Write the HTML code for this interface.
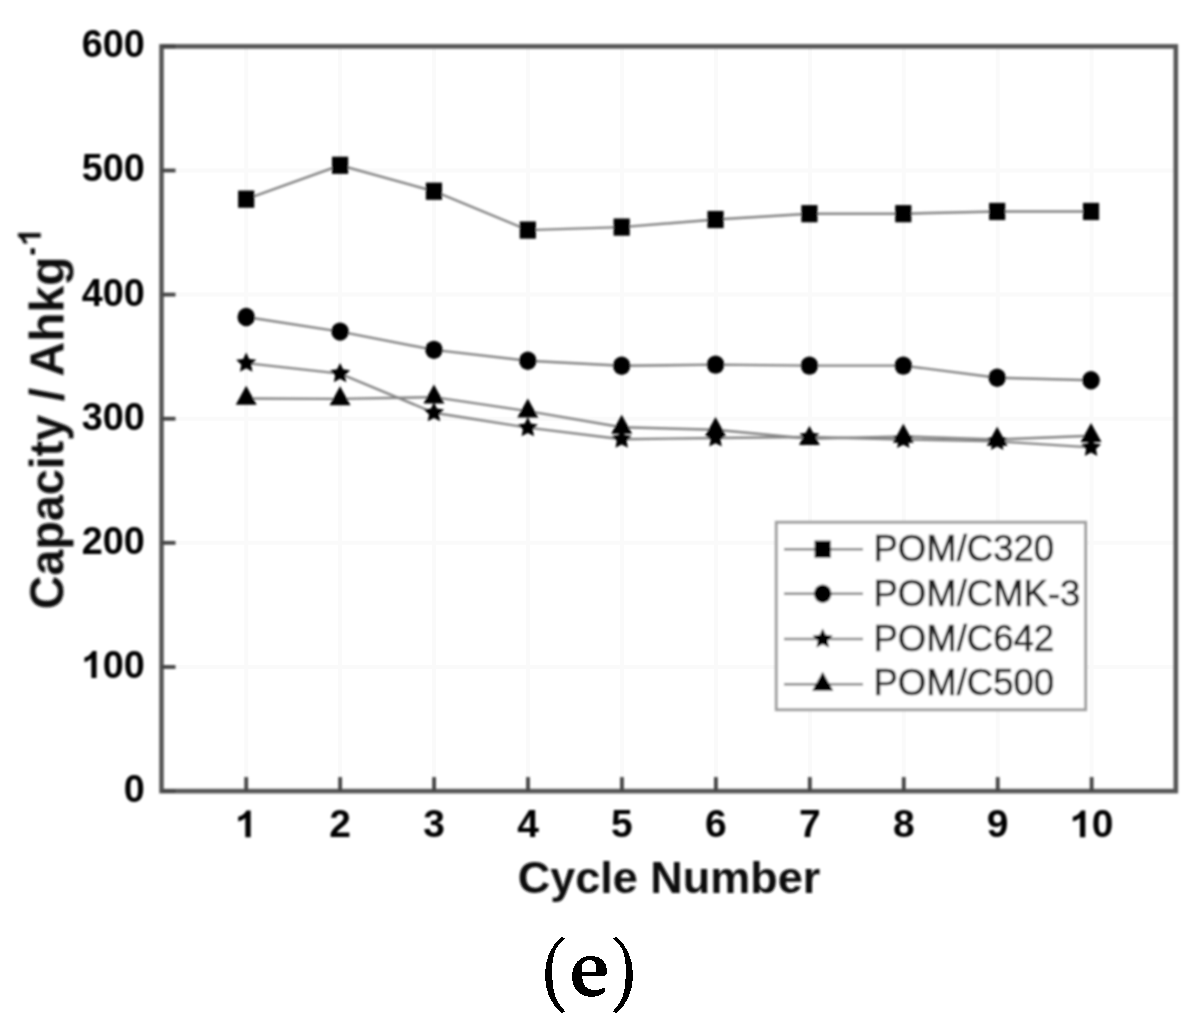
<!DOCTYPE html>
<html><head><meta charset="utf-8"><title>Chart</title>
<style>html,body{margin:0;padding:0;background:#fff;}body{width:1203px;height:1025px;overflow:hidden;font-family:"Liberation Sans",sans-serif;}svg{display:block;}</style>
</head><body><svg width="1203" height="1025" viewBox="0 0 1203 1025"><defs><filter id="bl" x="-5%" y="-5%" width="110%" height="110%"><feGaussianBlur stdDeviation="0.8"/></filter></defs><g stroke="#fafafa" stroke-width="4"><line x1="246.20" y1="46.40" x2="246.20" y2="791.10"/><line x1="340.14" y1="46.40" x2="340.14" y2="791.10"/><line x1="434.08" y1="46.40" x2="434.08" y2="791.10"/><line x1="528.02" y1="46.40" x2="528.02" y2="791.10"/><line x1="621.96" y1="46.40" x2="621.96" y2="791.10"/><line x1="715.90" y1="46.40" x2="715.90" y2="791.10"/><line x1="809.84" y1="46.40" x2="809.84" y2="791.10"/><line x1="903.78" y1="46.40" x2="903.78" y2="791.10"/><line x1="997.72" y1="46.40" x2="997.72" y2="791.10"/><line x1="1091.66" y1="46.40" x2="1091.66" y2="791.10"/><line x1="161.50" y1="666.98" x2="1175.80" y2="666.98"/><line x1="161.50" y1="542.86" x2="1175.80" y2="542.86"/><line x1="161.50" y1="418.74" x2="1175.80" y2="418.74"/><line x1="161.50" y1="294.62" x2="1175.80" y2="294.62"/><line x1="161.50" y1="170.50" x2="1175.80" y2="170.50"/></g><g filter="url(#bl)"><polyline points="246.20,398.51 340.07,398.88 433.94,397.14 527.81,411.17 621.68,427.30 715.55,429.79 809.42,438.72 903.29,436.37 997.16,439.47 1091.03,435.74" fill="none" stroke="#858585" stroke-width="2.4"/><polyline points="246.20,363.13 340.07,373.56 433.94,412.78 527.81,427.68 621.68,439.22 715.55,437.98 809.42,436.99 903.29,439.47 997.16,441.33 1091.03,447.41" fill="none" stroke="#858585" stroke-width="2.4"/><polyline points="246.20,316.96 340.07,331.61 433.94,349.85 527.81,360.78 621.68,365.74 715.55,364.62 809.42,365.62 903.29,365.62 997.16,377.78 1091.03,380.26" fill="none" stroke="#858585" stroke-width="2.4"/><polyline points="246.20,199.17 340.07,165.29 433.94,191.23 527.81,230.08 621.68,227.10 715.55,219.53 809.42,213.69 903.29,213.69 997.16,211.46 1091.03,211.46" fill="none" stroke="#858585" stroke-width="2.4"/><g fill="#000"><rect x="238.10" y="190.57" width="16.20" height="17.20"/><rect x="331.97" y="156.69" width="16.20" height="17.20"/><rect x="425.84" y="182.63" width="16.20" height="17.20"/><rect x="519.71" y="221.48" width="16.20" height="17.20"/><rect x="613.58" y="218.50" width="16.20" height="17.20"/><rect x="707.45" y="210.93" width="16.20" height="17.20"/><rect x="801.32" y="205.09" width="16.20" height="17.20"/><rect x="895.19" y="205.09" width="16.20" height="17.20"/><rect x="989.06" y="202.86" width="16.20" height="17.20"/><rect x="1082.93" y="202.86" width="16.20" height="17.20"/><ellipse cx="246.20" cy="316.96" rx="8.75" ry="9.20"/><ellipse cx="340.07" cy="331.61" rx="8.75" ry="9.20"/><ellipse cx="433.94" cy="349.85" rx="8.75" ry="9.20"/><ellipse cx="527.81" cy="360.78" rx="8.75" ry="9.20"/><ellipse cx="621.68" cy="365.74" rx="8.75" ry="9.20"/><ellipse cx="715.55" cy="364.62" rx="8.75" ry="9.20"/><ellipse cx="809.42" cy="365.62" rx="8.75" ry="9.20"/><ellipse cx="903.29" cy="365.62" rx="8.75" ry="9.20"/><ellipse cx="997.16" cy="377.78" rx="8.75" ry="9.20"/><ellipse cx="1091.03" cy="380.26" rx="8.75" ry="9.20"/><polygon points="246.20,352.53 249.26,358.93 256.28,359.86 251.15,364.74 252.43,371.71 246.20,368.33 239.97,371.71 241.25,364.74 236.12,359.86 243.14,358.93"/><polygon points="340.07,362.96 343.13,369.35 350.15,370.28 345.02,375.17 346.30,382.14 340.07,378.76 333.84,382.14 335.12,375.17 329.99,370.28 337.01,369.35"/><polygon points="433.94,402.18 437.00,408.58 444.02,409.51 438.89,414.39 440.17,421.36 433.94,417.98 427.71,421.36 428.99,414.39 423.86,409.51 430.88,408.58"/><polygon points="527.81,417.08 530.87,423.47 537.89,424.40 532.76,429.28 534.04,436.25 527.81,432.88 521.58,436.25 522.86,429.28 517.73,424.40 524.75,423.47"/><polygon points="621.68,428.62 624.74,435.01 631.76,435.94 626.63,440.83 627.91,447.80 621.68,444.42 615.45,447.80 616.73,440.83 611.60,435.94 618.62,435.01"/><polygon points="715.55,427.38 718.61,433.77 725.63,434.70 720.50,439.59 721.78,446.55 715.55,443.18 709.32,446.55 710.60,439.59 705.47,434.70 712.49,433.77"/><polygon points="809.42,426.39 812.48,432.78 819.50,433.71 814.37,438.59 815.65,445.56 809.42,442.19 803.19,445.56 804.47,438.59 799.34,433.71 806.36,432.78"/><polygon points="903.29,428.87 906.35,435.26 913.37,436.19 908.24,441.07 909.52,448.04 903.29,444.67 897.06,448.04 898.34,441.07 893.21,436.19 900.23,435.26"/><polygon points="997.16,430.73 1000.22,437.12 1007.24,438.05 1002.11,442.94 1003.39,449.91 997.16,446.53 990.93,449.91 992.21,442.94 987.08,438.05 994.10,437.12"/><polygon points="1091.03,436.81 1094.09,443.20 1101.11,444.14 1095.98,449.02 1097.26,455.99 1091.03,452.61 1084.80,455.99 1086.08,449.02 1080.95,444.14 1087.97,443.20"/><polygon points="246.20,385.84 256.70,404.84 235.70,404.84"/><polygon points="340.07,386.21 350.57,405.21 329.57,405.21"/><polygon points="433.94,384.48 444.44,403.48 423.44,403.48"/><polygon points="527.81,398.50 538.31,417.50 517.31,417.50"/><polygon points="621.68,414.64 632.18,433.64 611.18,433.64"/><polygon points="715.55,417.12 726.05,436.12 705.05,436.12"/><polygon points="809.42,426.06 819.92,445.06 798.92,445.06"/><polygon points="903.29,423.70 913.79,442.70 892.79,442.70"/><polygon points="997.16,426.80 1007.66,445.80 986.66,445.80"/><polygon points="1091.03,423.08 1101.53,442.08 1080.53,442.08"/></g><rect x="161.50" y="46.40" width="1014.30" height="744.70" fill="none" stroke="#575757" stroke-width="4.6"/><g stroke="#454545" stroke-width="3.8"><line x1="246.20" y1="791.10" x2="246.20" y2="777.10"/><line x1="340.14" y1="791.10" x2="340.14" y2="777.10"/><line x1="434.08" y1="791.10" x2="434.08" y2="777.10"/><line x1="528.02" y1="791.10" x2="528.02" y2="777.10"/><line x1="621.96" y1="791.10" x2="621.96" y2="777.10"/><line x1="715.90" y1="791.10" x2="715.90" y2="777.10"/><line x1="809.84" y1="791.10" x2="809.84" y2="777.10"/><line x1="903.78" y1="791.10" x2="903.78" y2="777.10"/><line x1="997.72" y1="791.10" x2="997.72" y2="777.10"/><line x1="1091.66" y1="791.10" x2="1091.66" y2="777.10"/><line x1="161.50" y1="791.10" x2="175.50" y2="791.10"/><line x1="161.50" y1="666.98" x2="175.50" y2="666.98"/><line x1="161.50" y1="542.86" x2="175.50" y2="542.86"/><line x1="161.50" y1="418.74" x2="175.50" y2="418.74"/><line x1="161.50" y1="294.62" x2="175.50" y2="294.62"/><line x1="161.50" y1="170.50" x2="175.50" y2="170.50"/><line x1="161.50" y1="46.38" x2="175.50" y2="46.38"/></g><g font-family="Liberation Sans, sans-serif" font-weight="bold" font-size="39" fill="#000"><text transform="translate(144.8,0) scale(0.97,1)" x="0" y="802.06" text-anchor="end">0</text><g transform="translate(144.8,0) scale(0.97,1)"><path d="M805,0 L524,0 L524,-1018 Q370,-879 150,-830 L150,-1075 Q271,-1100 389,-1181 Q507,-1270 585,-1409 L805,-1409 Z" transform="translate(-65.07,677.94) scale(0.01904)" fill="#000"/><text x="0" y="677.94" text-anchor="end">00</text></g><text transform="translate(144.8,0) scale(0.97,1)" x="0" y="553.82" text-anchor="end">200</text><text transform="translate(144.8,0) scale(0.97,1)" x="0" y="429.70" text-anchor="end">300</text><text transform="translate(144.8,0) scale(0.97,1)" x="0" y="305.58" text-anchor="end">400</text><text transform="translate(144.8,0) scale(0.97,1)" x="0" y="181.46" text-anchor="end">500</text><text transform="translate(144.8,0) scale(0.97,1)" x="0" y="57.34" text-anchor="end">600</text><text x="340.14" y="837.30" text-anchor="middle">2</text><text x="434.08" y="837.30" text-anchor="middle">3</text><text x="528.02" y="837.30" text-anchor="middle">4</text><text x="621.96" y="837.30" text-anchor="middle">5</text><text x="715.90" y="837.30" text-anchor="middle">6</text><text x="809.84" y="837.30" text-anchor="middle">7</text><text x="903.78" y="837.30" text-anchor="middle">8</text><text x="997.72" y="837.30" text-anchor="middle">9</text><path d="M805,0 L524,0 L524,-1018 Q370,-879 150,-830 L150,-1075 Q271,-1100 389,-1181 Q507,-1270 585,-1409 L805,-1409 Z" transform="translate(235.36,837.30) scale(0.01904)" fill="#000"/><path d="M805,0 L524,0 L524,-1018 Q370,-879 150,-830 L150,-1075 Q271,-1100 389,-1181 Q507,-1270 585,-1409 L805,-1409 Z" transform="translate(1069.97,837.30) scale(0.01904)" fill="#000"/><text x="1091.66" y="837.30">0</text></g><text x="669" y="892.8" text-anchor="middle" font-family="Liberation Sans, sans-serif" font-weight="bold" font-size="45" fill="#111">Cycle Number</text><g transform="translate(63.5,614.8) rotate(-90)" fill="#111"><text transform="translate(200,0) scale(0.972,1) translate(-200,0)" x="0" y="0" font-family="Liberation Sans, sans-serif" font-weight="bold" font-size="48">Capacity</text><text x="200.06" y="0" font-family="Liberation Sans, sans-serif" font-weight="bold" font-size="48" xml:space="preserve"> / Ahkg</text><path d="M805,0 L524,0 L524,-1018 Q370,-879 150,-830 L150,-1075 Q271,-1100 389,-1181 Q507,-1270 585,-1409 L805,-1409 Z" transform="translate(368.80,-22.70) scale(0.01611)" fill="#111"/></g><rect x="30.6" y="248.3" width="4.4" height="6.2" fill="#111"/><rect x="776.3" y="522.3" width="309.29999999999995" height="187.4000000000001" fill="#fff" stroke="#a0a0a0" stroke-width="3"/><line x1="784" y1="549.2" x2="863" y2="549.2" stroke="#858585" stroke-width="2.4"/><g fill="#000"><rect x="814.60" y="540.60" width="16.20" height="17.20"/></g><text x="873.5" y="560.76" font-family="Liberation Sans, sans-serif" font-size="36.5" fill="#222" stroke="#222" stroke-width="0.7">POM/C320</text><line x1="784" y1="593.8" x2="863" y2="593.8" stroke="#858585" stroke-width="2.4"/><g fill="#000"><ellipse cx="822.70" cy="593.80" rx="8.75" ry="9.20"/></g><text x="873.5" y="606.16" font-family="Liberation Sans, sans-serif" font-size="36.5" fill="#222" stroke="#222" stroke-width="0.7">POM/CMK-3</text><line x1="784" y1="639.0" x2="863" y2="639.0" stroke="#858585" stroke-width="2.4"/><g fill="#000"><polygon points="822.70,628.40 825.76,634.79 832.78,635.72 827.65,640.61 828.93,647.58 822.70,644.20 816.47,647.58 817.75,640.61 812.62,635.72 819.64,634.79"/></g><text x="873.5" y="650.56" font-family="Liberation Sans, sans-serif" font-size="36.5" fill="#222" stroke="#222" stroke-width="0.7">POM/C642</text><line x1="784" y1="684.3" x2="863" y2="684.3" stroke="#858585" stroke-width="2.4"/><g fill="#000"><polygon points="822.70,671.63 833.20,690.63 812.20,690.63"/></g><text x="873.5" y="695.46" font-family="Liberation Sans, sans-serif" font-size="36.5" fill="#222" stroke="#222" stroke-width="0.7">POM/C500</text></g><g fill="#000" shape-rendering="crispEdges"><path d="M562.2,936.6 C550,946 545,960 545,975 C545,990 550,1004 562.2,1013.4 L565,1011.2 C556,1002 552.2,992 552.2,975 C552.2,958 553,948 565,938.8 Z"/><path d="M562.2,936.6 C550,946 545,960 545,975 C545,990 550,1004 562.2,1013.4 L565,1011.2 C556,1002 552.2,992 552.2,975 C552.2,958 553,948 565,938.8 Z" transform="translate(1178,0) scale(-1,1)"/></g><path d="M603.6,987.8 L605.3,987.8 L605.3,991.5 C602,995 598,996.8 591,996.8 C579,996.8 572.1,988 572.1,977 C572.1,964 580,955.8 591,955.8 C601,955.8 607,962 607,971 L607,974 L604.5,975.9 L582.2,975.9 C582.2,984 585.5,990 593,990 C598,990 601.5,989.5 603.6,987.8 Z M581.9,972 L596,972 L596,966.5 C596,962.5 593.5,960 589,960 C584.5,960 581.9,963.5 581.9,967.5 Z" fill="#000" fill-rule="evenodd" shape-rendering="crispEdges"/></svg></body></html>
